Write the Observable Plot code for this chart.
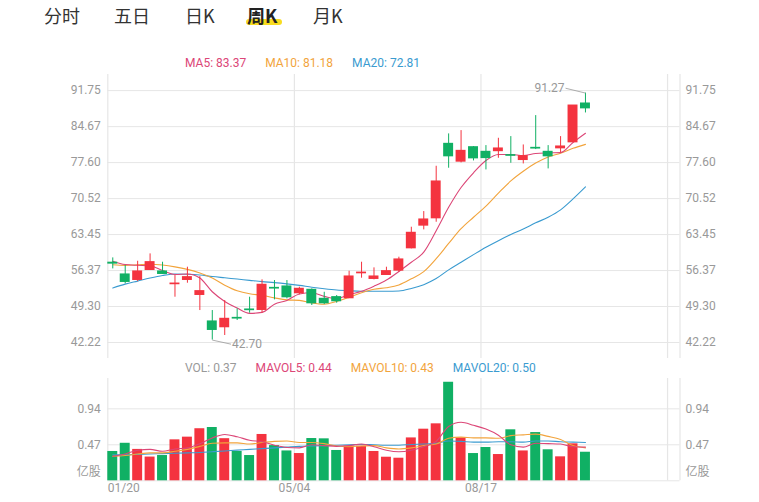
<!DOCTYPE html>
<html>
<head>
<meta charset="utf-8">
<script src="https://cdn.jsdelivr.net/npm/d3@7"></script>
<script src="https://cdn.jsdelivr.net/npm/@observablehq/plot@0.6"></script>
<style>
  html, body { margin: 0; padding: 0; background: #fff; }
  #root { position: relative; width: 759px; height: 502px; overflow: hidden;
          font-family: Roboto, "Noto Sans CJK SC", sans-serif; }
  .tab { position: absolute; top: 6px; font-size: 18px; line-height: 18px; color: #333;
         font-family: "Noto Sans CJK SC", Roboto, sans-serif; z-index: 2; }
  .tab.active { font-weight: bold; color: #222; }
  .hl { position: absolute; background: #f8dc1f; border-radius: 3px; z-index: 1; }
  .legend { position: absolute; left: 185px; display: flex; gap: 19px; font-size: 12px;
            line-height: 14px; white-space: nowrap; z-index: 3; }
  .panel { position: absolute; left: 0; }
</style>
</head>
<body>
<div id="root"></div>
<script>
// ---------------- data ----------------
const tabLabels = ["分时", "五日", "日K", "周K", "月K"];
const activeTab = "周K";

const dateLabels = ["01/20", "05/04", "08/17"];
const dateIndex = [0, 15, 30];

const open  = [57.90, 55.59, 54.54, 56.50, 56.18, 53.70, 54.54, 51.59, 46.35, 45.24, 47.05, 48.70, 48.64, 52.95, 53.23, 51.92, 52.57, 50.80, 51.13, 50.94, 55.85, 54.74, 55.52, 56.37, 60.76, 65.22, 66.66, 81.27, 77.80, 80.61, 79.70, 79.86, 79.05, 78.12, 80.48, 79.70, 80.42, 81.60, 89.20];
const high  = [58.86, 57.36, 58.20, 59.65, 58.01, 55.39, 57.03, 55.19, 48.51, 50.48, 48.84, 51.13, 54.54, 54.41, 54.41, 53.10, 52.77, 52.10, 51.46, 56.24, 58.01, 56.90, 57.03, 59.00, 64.89, 67.97, 76.88, 83.24, 83.89, 80.75, 80.94, 82.38, 82.71, 81.07, 86.84, 80.94, 82.71, 88.80, 91.27];
const low   = [56.70, 53.75, 54.20, 56.40, 55.59, 51.13, 53.88, 48.51, 42.70, 43.60, 46.55, 47.99, 47.99, 50.61, 50.80, 51.59, 49.50, 49.69, 49.95, 50.90, 54.87, 54.54, 55.45, 56.05, 60.63, 64.37, 65.87, 76.49, 77.54, 77.93, 76.16, 78.45, 77.47, 77.34, 80.16, 76.36, 79.50, 81.60, 87.36];
const close = [57.75, 54.15, 56.18, 58.01, 55.72, 53.80, 55.06, 52.31, 44.71, 46.87, 46.95, 48.60, 53.56, 52.85, 51.13, 52.77, 49.95, 49.95, 50.35, 55.19, 55.95, 55.19, 56.24, 58.54, 63.78, 66.40, 73.87, 78.85, 79.89, 78.45, 78.50, 80.36, 78.95, 78.85, 80.38, 78.85, 80.75, 88.80, 88.28];

const ma5  = [58.20, 57.55, 57.40, 57.30, 56.37, 55.60, 55.70, 54.90, 52.20, 50.30, 49.00, 47.95, 48.15, 49.75, 50.50, 51.75, 52.00, 51.30, 50.85, 51.65, 52.30, 53.30, 54.50, 56.20, 58.00, 60.00, 64.20, 68.80, 72.70, 75.60, 78.00, 79.20, 79.20, 79.00, 79.40, 79.50, 79.55, 81.55, 83.37];
const ma10 = [57.50, 57.40, 57.50, 57.60, 57.45, 57.10, 56.60, 55.90, 54.90, 53.50, 52.40, 51.80, 51.50, 51.00, 50.60, 50.50, 50.00, 49.75, 50.30, 51.10, 52.00, 52.70, 53.00, 53.55, 54.75, 56.15, 58.70, 61.70, 64.60, 66.85, 69.05, 71.60, 74.00, 75.90, 77.50, 78.70, 79.45, 80.40, 81.18];
const ma20 = [52.95, 53.70, 54.30, 54.90, 55.40, 55.70, 55.65, 55.50, 55.20, 54.95, 54.70, 54.45, 54.20, 54.00, 53.75, 53.45, 53.10, 52.80, 52.55, 52.40, 52.30, 52.30, 52.30, 52.35, 52.85, 53.60, 54.80, 56.50, 58.00, 59.50, 60.95, 62.25, 63.45, 64.55, 65.75, 66.85, 68.30, 70.45, 72.81];

const volume = [0.383, 0.490, 0.410, 0.310, 0.330, 0.535, 0.570, 0.680, 0.696, 0.550, 0.383, 0.330, 0.605, 0.460, 0.390, 0.356, 0.552, 0.548, 0.396, 0.452, 0.452, 0.383, 0.308, 0.295, 0.560, 0.674, 0.744, 1.287, 0.560, 0.356, 0.435, 0.343, 0.666, 0.390, 0.630, 0.405, 0.313, 0.483, 0.373];
const mavol5  = [0.32, 0.35, 0.40, 0.41, 0.385, 0.415, 0.43, 0.485, 0.56, 0.605, 0.575, 0.53, 0.51, 0.465, 0.435, 0.43, 0.47, 0.46, 0.45, 0.46, 0.48, 0.445, 0.40, 0.38, 0.40, 0.445, 0.515, 0.71, 0.765, 0.725, 0.675, 0.595, 0.47, 0.44, 0.49, 0.485, 0.48, 0.445, 0.44];
const mavol10 = [0.32, 0.33, 0.35, 0.365, 0.365, 0.385, 0.41, 0.45, 0.49, 0.495, 0.495, 0.48, 0.50, 0.515, 0.52, 0.50, 0.50, 0.485, 0.455, 0.445, 0.455, 0.46, 0.43, 0.415, 0.43, 0.46, 0.48, 0.555, 0.57, 0.56, 0.56, 0.555, 0.59, 0.60, 0.61, 0.58, 0.54, 0.46, 0.43];
const mavol20 = [0.34, 0.34, 0.345, 0.35, 0.355, 0.36, 0.365, 0.37, 0.38, 0.39, 0.40, 0.41, 0.42, 0.43, 0.44, 0.45, 0.455, 0.46, 0.465, 0.47, 0.475, 0.47, 0.465, 0.465, 0.475, 0.48, 0.49, 0.52, 0.515, 0.505, 0.505, 0.51, 0.51, 0.505, 0.52, 0.52, 0.51, 0.505, 0.50];

const priceTicks = [42.22, 49.30, 56.37, 63.45, 70.52, 77.60, 84.67, 91.75];
const volTicks = [0.47, 0.94];
const volUnit = "亿股";

const maLegendNames  = ["MA5", "MA10", "MA20"];
const maLegendValues = [83.37, 81.18, 72.81];
const volLegendNames  = ["VOL", "MAVOL5", "MAVOL10", "MAVOL20"];
const volLegendValues = [0.37, 0.44, 0.43, 0.50];

// ---------------- styles ----------------
const RED = "#f4333f", GREEN = "#10b064";
const C5 = "#dc4677", C10 = "#f2a43c", C20 = "#3a9bd0";
const GRID = "#e6e6e6", AXIS = "#999";
const SLOTS = 45;           // visible weekly slots before the right border
const BODY = 0.8;           // candle body width in slots
const FONT = "Roboto, 'Noto Sans CJK SC', sans-serif";

const candles = open.map((o, i) => ({
  i, o, h: high[i], l: low[i], c: close[i], v: volume[i],
  up: close[i] >= o, lo: Math.min(o, close[i]), hi: Math.max(o, close[i])
}));
const cx = d => d.i + BODY / 2;
const vGrid = [...dateIndex, SLOTS, SLOTS + 1];
const xDomain = [0, SLOTS + 1];

const root = document.getElementById("root");

// tabs
const tabLeft = [44, 114, 185, 247, 313];
tabLabels.forEach((t, k) => {
  if (t === activeTab) {
    const hl = document.createElement("div");
    hl.className = "hl";
    Object.assign(hl.style, { left: (tabLeft[k] - 1) + "px", top: "19px", width: "36px", height: "6px" });
    root.appendChild(hl);
  }
  const el = document.createElement("div");
  el.className = "tab" + (t === activeTab ? " active" : "");
  el.style.left = tabLeft[k] + "px";
  el.textContent = t;
  root.appendChild(el);
});

function legend(names, values, colors, top, digits) {
  const box = document.createElement("div");
  box.className = "legend";
  box.style.top = top + "px";
  names.forEach((n, k) => {
    const s = document.createElement("span");
    s.style.color = colors[k];
    s.textContent = `${n}: ${values[k].toFixed(digits)}`;
    box.appendChild(s);
  });
  root.appendChild(box);
}
legend(maLegendNames, maLegendValues, [C5, C10, C20], 56, 2);
legend(volLegendNames, volLegendValues, [AXIS, C5, C10, C20], 361, 2);

// ---------------- price panel ----------------
const maxC = candles[d3.maxIndex(high)];
const minC = candles[d3.minIndex(low)];

const price = Plot.plot({
  width: 759, height: 362,
  marginLeft: 107.3, marginRight: 79.5, marginTop: 74, marginBottom: 4,
  style: { fontFamily: FONT, fontSize: "12px", color: AXIS, background: "transparent", overflow: "visible" },
  x: { domain: xDomain, axis: null, label: null },
  y: { domain: [39.08, 94.92], axis: null, label: null },
  color: { type: "identity" },
  marks: [
    Plot.ruleY(priceTicks, { stroke: GRID }),
    Plot.ruleX(vGrid, { stroke: GRID, strokeWidth: 1.2 }),
    Plot.axisY({ anchor: "left", ticks: priceTicks, tickSize: 0, tickPadding: 7, tickFormat: d3.format(".2f"), label: null }),
    Plot.axisY({ anchor: "right", ticks: priceTicks, tickSize: 0, tickPadding: 5.5, tickFormat: d3.format(".2f"), label: null }),
    Plot.lineY(ma20, { x: (d, i) => i + BODY / 2, y: d => d, stroke: C20, strokeWidth: 1.1, curve: "monotone-x" }),
    Plot.lineY(ma10, { x: (d, i) => i + BODY / 2, y: d => d, stroke: C10, strokeWidth: 1.1, curve: "monotone-x" }),
    Plot.lineY(ma5,  { x: (d, i) => i + BODY / 2, y: d => d, stroke: C5,  strokeWidth: 1.1, curve: "monotone-x" }),
    Plot.ruleX(candles, { x: cx, y1: "l", y2: "h", stroke: d => d.up ? RED : GREEN, strokeWidth: 1 }),
    Plot.rect(candles, { x1: "i", x2: d => d.i + BODY, y1: "lo", y2: "hi", fill: d => d.up ? RED : GREEN,
                         insetTop: -0.6, insetBottom: -0.6 }),
    // extreme labels
    Plot.link([maxC], { x1: cx, y1: "h", x2: d => cx(d) - 1.6, y2: d => d.h + 0.95, stroke: AXIS, strokeWidth: 0.8 }),
    Plot.text([maxC], { x: d => cx(d) - 1.6, y: d => d.h + 0.95, text: d => d.h.toFixed(2), textAnchor: "end", dx: -1, fill: AXIS }),
    Plot.link([minC], { x1: cx, y1: "l", x2: d => cx(d) + 1.5, y2: d => d.l - 0.8, stroke: AXIS, strokeWidth: 0.8 }),
    Plot.text([minC], { x: d => cx(d) + 1.5, y: d => d.l - 0.8, text: d => d.l.toFixed(2), textAnchor: "start", dx: 1, fill: AXIS })
  ]
});
price.classList.add("panel");
price.style.top = "0px";
root.appendChild(price);

// ---------------- volume panel ----------------
const dateRows = dateLabels.map((label, k) => ({ label, index: dateIndex[k] }));
const vol = Plot.plot({
  width: 759, height: 140,
  marginLeft: 107.3, marginRight: 79.5, marginTop: 16, marginBottom: 21.7,
  style: { fontFamily: FONT, fontSize: "12px", color: AXIS, background: "transparent", overflow: "visible" },
  x: { domain: xDomain, axis: null, label: null },
  y: { domain: [0, 1.336], axis: null, label: null },
  color: { type: "identity" },
  marks: [
    Plot.ruleY([0, ...volTicks], { stroke: GRID }),
    Plot.ruleX(vGrid, { stroke: GRID, strokeWidth: 1.2 }),
    Plot.axisY({ anchor: "left", ticks: volTicks, tickSize: 0, tickPadding: 7, tickFormat: d3.format(".2f"), label: null }),
    Plot.axisY({ anchor: "right", ticks: volTicks, tickSize: 0, tickPadding: 5.5, tickFormat: d3.format(".2f"), label: null }),
    Plot.text([volUnit], { frameAnchor: "bottom-left", textAnchor: "end", dx: -7, dy: -5, fill: AXIS }),
    Plot.text([volUnit], { frameAnchor: "bottom-right", textAnchor: "start", dx: 5.5, dy: -5, fill: AXIS }),
    Plot.rectY(candles, { x1: "i", x2: d => d.i + BODY, y: "v", fill: d => d.up ? RED : GREEN }),
    Plot.lineY(mavol20, { x: (d, i) => i + BODY / 2, y: d => d, stroke: C20, strokeWidth: 1.1, curve: "monotone-x" }),
    Plot.lineY(mavol10, { x: (d, i) => i + BODY / 2, y: d => d, stroke: C10, strokeWidth: 1.1, curve: "monotone-x" }),
    Plot.lineY(mavol5,  { x: (d, i) => i + BODY / 2, y: d => d, stroke: C5,  strokeWidth: 1.1, curve: "monotone-x" }),
    Plot.text(dateRows.slice(0, 1), { x: "index", text: "label", frameAnchor: "bottom", dy: 11.5, textAnchor: "start", fill: AXIS }),
    Plot.text(dateRows.slice(1), { x: "index", text: "label", frameAnchor: "bottom", dy: 11.5, textAnchor: "middle", fill: AXIS })
  ]
});
vol.classList.add("panel");
vol.style.top = "362px";
root.appendChild(vol);
</script>
</body>
</html>
